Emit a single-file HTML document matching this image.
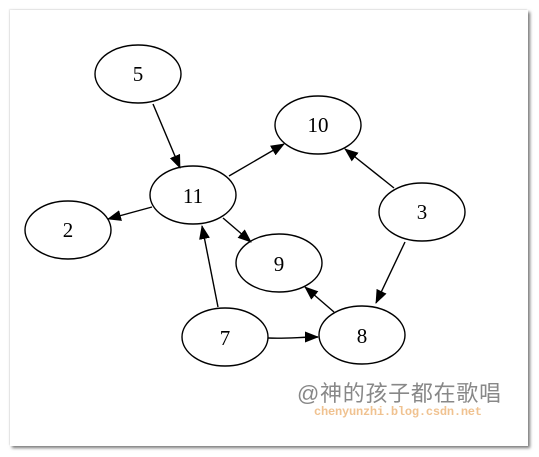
<!DOCTYPE html>
<html><head><style>
body{margin:0;width:539px;height:457px;background:#fff;overflow:hidden;font-family:"Liberation Serif",serif}
.card{position:absolute;left:10px;top:10px;width:518px;height:436px;background:#fff;box-shadow:2px 2px 3px #777, -1px -1px 1px #e8e8e8}
</style></head><body>
<div class="card"></div>
<svg width="539" height="457" style="position:absolute;left:0;top:0">
<defs><marker id="a" markerWidth="14" markerHeight="11" refX="13" refY="5.5" orient="auto" markerUnits="userSpaceOnUse"><path d="M0,0L14,5.5L0,11z" fill="#000"/></marker></defs>
<g fill="none" stroke="#000" stroke-width="1.4">
<ellipse cx="138" cy="74" rx="43" ry="29"/>
<ellipse cx="318" cy="125" rx="43" ry="29"/>
<ellipse cx="193" cy="195" rx="43" ry="29"/>
<ellipse cx="68" cy="230" rx="43" ry="29"/>
<ellipse cx="422" cy="212" rx="43" ry="29"/>
<ellipse cx="279" cy="263" rx="43" ry="29"/>
<ellipse cx="225" cy="337" rx="43" ry="29"/>
<ellipse cx="362" cy="335" rx="43" ry="29"/>
<g marker-end="url(#a)">
<line x1="153" y1="104" x2="180" y2="168"/>
<line x1="229" y1="176" x2="284" y2="144"/>
<line x1="152" y1="207" x2="108" y2="219"/>
<line x1="223" y1="218" x2="251" y2="242"/>
<line x1="218" y1="307" x2="202" y2="226"/>
<path d="M268,338 C285,339 300,337 318,337"/>
<line x1="394" y1="188" x2="345" y2="149"/>
<line x1="405" y1="242" x2="376" y2="303"/>
<line x1="334" y1="312" x2="305" y2="287"/>
</g></g>
<g font-size="21" text-anchor="middle" fill="#000">
<text x="138" y="81">5</text>
<text x="318" y="132">10</text>
<text x="193" y="203">11</text>
<text x="68" y="237">2</text>
<text x="422" y="219">3</text>
<text x="279" y="271">9</text>
<text x="225" y="345">7</text>
<text x="362" y="343">8</text>
</g>
<text x="297" y="401" font-size="22" fill="#888" font-family="Liberation Sans, Noto Sans CJK SC, sans-serif" textLength="204">@神的孩子都在歌唱</text>
<text x="314" y="415" font-size="12" font-weight="bold" fill="#f0c290" font-family="Liberation Mono, monospace" textLength="168">chenyunzhi.blog.csdn.net</text>
</svg>
</body></html>
